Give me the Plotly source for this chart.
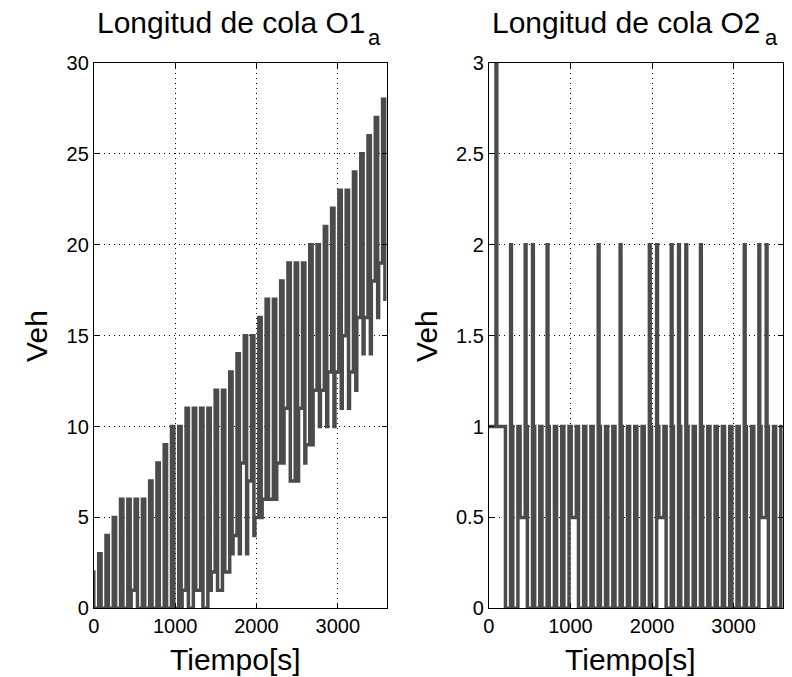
import plotly.graph_objects as go

# ---------------- data ----------------
cycle_s = 89.5          # signal cycle length [s]
t_end = 3600            # simulation end [s]

# Queue O1_a : per cycle, peak length, deep trough after discharge, residual level
o1_peaks = [2, 3, 4, 5, 6, 6, 6, 6, 7, 8, 9, 10, 10, 11, 11, 11, 11, 12, 12, 13, 14,
            15, 15, 16, 17, 17, 18, 19, 19, 19, 20, 20, 21, 22, 23, 23, 24, 25, 26, 27, 28]
o1_deep = [0, 0, 0, 0, 0, 0, 0, 0, 0, 0, 0, 0, 0, 0, 1, 0, 1, 1, 2, 3, 3,
           3, 4, 5, 6, 6, 8, 7, 7, 8, 9, 10, 10, 10, 11, 11, 12, 14, 14, 16, 17]
o1_resid = [0, 0, 0, 0, 0, 1, 0, 0, 0, 0, 0, 0, 1, 0, 1, 0, 2, 1, 2, 4, 8,
            7, 5, 6, 6, 8, 11, 7, 11, 9, 12, 12, 13, 13, 15, 13, 16, 16, 18, 19, 17]

# Queue O2_a : per cycle, peak length and trough after discharge
o2_peaks = [1, 3, 1, 2, 1, 2, 2, 1, 2, 1, 1, 1, 1, 1, 1, 2, 1, 1, 2, 1, 1,
            1, 2, 2, 1, 2, 2, 2, 1, 2, 1, 1, 1, 1, 1, 2, 1, 2, 2, 1, 1]
o2_trough = [1, 1, 0, 0, 0.5, 0, 0, 0, 0, 0, 0, 0.5, 0, 0, 0, 0, 0, 0, 0, 0, 0,
             0, 0, 0.5, 0, 0, 0, 0, 0, 0, 0, 0, 0, 0, 0, 0, 0, 0.5, 0, 0, 0]
o2_level = 1

x_ticks = [0, 1000, 2000, 3000]

# ---------------- build step series ----------------
x1, y1 = [], []
for j, (p, d, r) in enumerate(zip(o1_peaks, o1_deep, o1_resid)):
    b = j * cycle_s
    x1 += [b - 29.5, b - 0.5, b + 11.5]
    y1 += [p, d, r]
x1.append(t_end)
y1.append(o1_resid[-1])

x2, y2 = [], []
for j, (p, tr) in enumerate(zip(o2_peaks, o2_trough)):
    b = j * cycle_s
    x2 += [b - 1.5, b + 8.5, b + 25]
    y2 += [p, o2_level, tr]

line_col = '#4b4b4b'
fig = go.Figure()
fig.add_trace(go.Scatter(x=x1, y=y1, mode='lines', xaxis='x', yaxis='y',
                         line=dict(color=line_col, width=3.5, shape='hv'),
                         hoverinfo='skip', showlegend=False))
fig.add_trace(go.Scatter(x=x2, y=y2, mode='lines', xaxis='x2', yaxis='y2',
                         line=dict(color=line_col, width=3.5, shape='hv'),
                         hoverinfo='skip', showlegend=False))

W, H = 792, 677

def px_x(x):
    return (x - 3.5) / W

def px_y(y):
    return 1 - ((y - 11.2) / 0.965) / H

font_fam = 'Liberation Sans, Arial, sans-serif'
ax_common = dict(showline=True, linecolor='black', linewidth=1, mirror='ticks',
                 ticks='inside', ticklen=5, tickcolor='black', tickwidth=1,
                 showgrid=True, gridcolor='black', gridwidth=1, griddash='1px,4px',
                 zeroline=False, tickfont=dict(family=font_fam, size=20, color='black'))

ydom = [px_y(607), px_y(63)]
fig.update_layout(
    width=W, height=H, margin=dict(l=0, r=0, t=0, b=0),
    paper_bgcolor='white', plot_bgcolor='white', showlegend=False,
    xaxis=dict(domain=[px_x(92), px_x(387)], range=[0, t_end], tickvals=x_ticks,
               anchor='y', **ax_common),
    yaxis=dict(domain=ydom, range=[0, 30], dtick=5, anchor='x', **ax_common),
    xaxis2=dict(domain=[px_x(490), px_x(786)], range=[0, t_end], tickvals=x_ticks,
                anchor='y2', **ax_common),
    yaxis2=dict(domain=ydom, range=[0, 3], dtick=0.5, anchor='x2', **ax_common),
)

def ann(text, px, py, size, angle=0):
    fig.add_annotation(text=text, x=px_x(px), y=px_y(py), xref='paper', yref='paper',
                       showarrow=False, xanchor='center', yanchor='middle',
                       textangle=angle, font=dict(family=font_fam, size=size, color='black'))

ann('Longitud de cola O1', 231, 23, 30)
ann('a', 375, 38, 22)
ann('Longitud de cola O2', 629, 23, 30)
ann('a', 775, 38, 22)
ann('Tiempo[s]', 235, 658, 30)
ann('Tiempo[s]', 633, 658, 30)
ann('Veh', 34, 335, 30, -90)
ann('Veh', 427, 335, 30, -90)

fig.write_html('out.html', config={'displayModeBar': False},
               post_script="document.body.style.margin='0';document.body.style.overflow='hidden';")
